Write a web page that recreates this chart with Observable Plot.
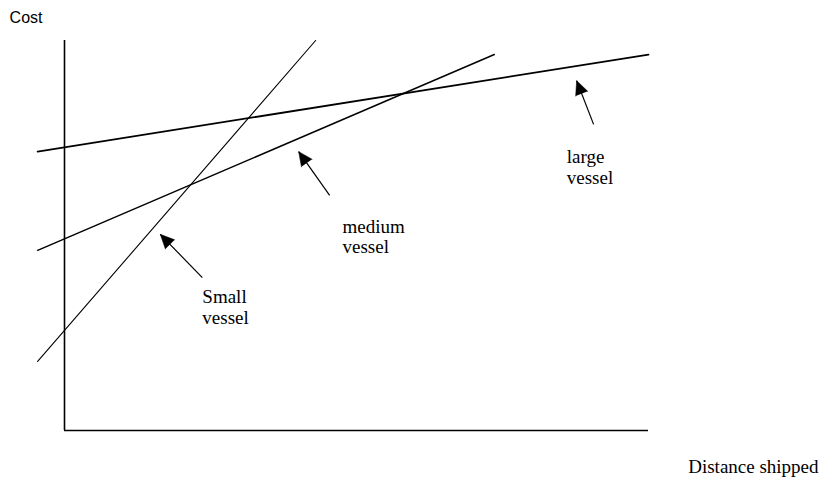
<!DOCTYPE html>
<html>
<head>
<meta charset="utf-8">
<script src="https://cdn.jsdelivr.net/npm/d3@7"></script>
<script src="https://cdn.jsdelivr.net/npm/@observablehq/plot@0.6"></script>
<style>
  html, body { margin: 0; padding: 0; background: #fff; }
  svg { display: block; }
</style>
</head>
<body>
<div id="chart"></div>
<script>
// Cost vs distance shipped for three vessel sizes (abstract units 0–100)
const vessels = ["small", "medium", "large"];
const startDistance = [-4.6, -4.6, -4.6];
const startCost     = [17.7, 46.2, 71.5];
const endDistance   = [43.0, 73.6, 100.0];
const endCost       = [100.0, 96.4, 96.4];

// Annotation arrows (tail -> tip) and labels
const arrowTailDistance = [23.6, 45.4, 90.6];
const arrowTailCost     = [39.2, 60.3, 78.5];
const arrowTipDistance  = [16.4, 40.1, 87.7];
const arrowTipCost      = [50.3, 71.5, 89.7];
const labelText     = ["Small\nvessel", "medium\nvessel", "large\nvessel"];
const labelDistance = [23.6, 47.6, 86.0];
const labelCost     = [27.4, 45.4, 63.3];

const axisTitles = ["Cost", "Distance shipped"];
const axisTitleDistance = [-9.4, 106.8];
const axisTitleCost = [104.6, -11.0];

const xDomain = [0, 100], xRange = [64, 648];
const yDomain = [0, 100], yRange = [430, 40];
const kx = (xRange[1] - xRange[0]) / (xDomain[1] - xDomain[0]);
const ky = (yRange[0] - yRange[1]) / (yDomain[1] - yDomain[0]);

const lineData = vessels.flatMap((v, i) => [
  {vessel: v, distance: startDistance[i], cost: startCost[i]},
  {vessel: v, distance: endDistance[i], cost: endCost[i]}
]);
const widths = {small: 1.1, medium: 1.5, large: 1.8};
const arrows = vessels.map((v, i) => {
  const dxp = (arrowTipDistance[i] - arrowTailDistance[i]) * kx;
  const dyp = -(arrowTipCost[i] - arrowTailCost[i]) * ky;
  return {
    vessel: v,
    x1: arrowTailDistance[i], y1: arrowTailCost[i],
    x2: arrowTipDistance[i], y2: arrowTipCost[i],
    angle: Math.atan2(dxp, -dyp) * 180 / Math.PI
  };
});
const labels = vessels.map((v, i) => ({text: labelText[i], x: labelDistance[i], y: labelCost[i]}));
const titles = axisTitles.map((t, i) => ({text: t, x: axisTitleDistance[i], y: axisTitleCost[i]}));

const chart = Plot.plot({
  width: 819,
  height: 479,
  margin: 0,
  x: {domain: xDomain, range: xRange, axis: null},
  y: {domain: yDomain, range: yRange, axis: null},
  marks: [
    Plot.ruleX([0], {y1: 0, y2: 100, stroke: "black", strokeWidth: 1.6}),
    Plot.ruleY([0], {x1: 0, x2: 100, stroke: "black", strokeWidth: 1.6}),
    ...vessels.map(v => Plot.line(lineData.filter(d => d.vessel === v), {
      x: "distance", y: "cost", stroke: "black", strokeWidth: widths[v]
    })),
    Plot.link(arrows, {x1: "x1", y1: "y1", x2: "x2", y2: "y2", stroke: "black", strokeWidth: 1.2}),
    Plot.vector(arrows, {
      x: "x2", y: "y2", rotate: "angle", length: 14, r: 6.5,
      shape: "spike", anchor: "end", fill: "black", stroke: "black", strokeWidth: 0.5
    }),
    Plot.text(labels, {
      x: "x", y: "y", text: "text", textAnchor: "start", lineAnchor: "bottom",
      lineHeight: 1.1, fontFamily: "Liberation Serif", fontSize: 19, fill: "black"
    }),
    Plot.text(titles.slice(0, 1), {
      x: "x", y: "y", text: "text", textAnchor: "start", lineAnchor: "bottom",
      fontFamily: "Liberation Sans", fontSize: 16, fill: "black"
    }),
    Plot.text(titles.slice(1), {
      x: "x", y: "y", text: "text", textAnchor: "start", lineAnchor: "bottom",
      fontFamily: "Liberation Serif", fontSize: 19, fill: "black"
    })
  ]
});
document.getElementById("chart").appendChild(chart);
</script>
</body>
</html>
